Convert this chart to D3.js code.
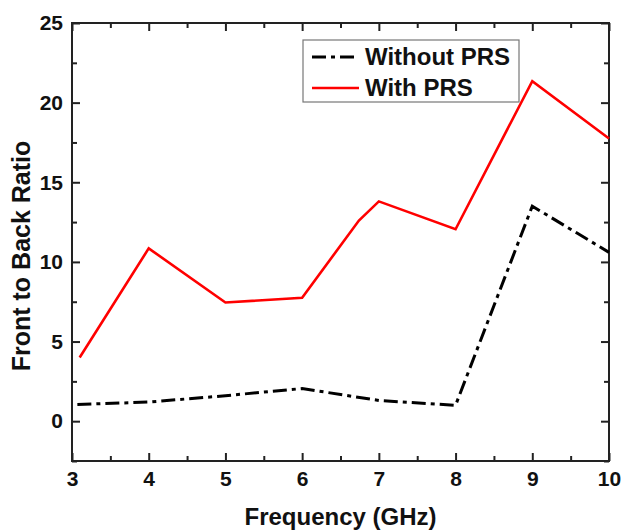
<!DOCTYPE html>
<html>
<head>
<meta charset="utf-8">
<script src="https://cdn.jsdelivr.net/npm/d3@7"></script>
<style>
  body { margin: 0; background: #FFFFFF; }
  svg { display: block; font-family: "Liberation Sans", Arial, sans-serif; font-weight: bold; }
</style>
</head>
<body>
<svg></svg>
<script>
//--Data
const freqWith = [3.1, 4, 5, 6, 6.74, 7, 8, 9, 10];
const ratioWith = [4.0, 10.85, 7.45, 7.75, 12.6, 13.8, 12.05, 21.35, 17.75];
const freqWithout = [3.07, 4, 5, 6, 7, 8, 9, 10];
const ratioWithout = [1.05, 1.2, 1.6, 2.05, 1.3, 1.0, 13.5, 10.6];
const xTicks = [3, 4, 5, 6, 7, 8, 9, 10];
const yTicks = [0, 5, 10, 15, 20, 25];
const seriesNames = ["Without PRS", "With PRS"];

//Shared info
var canvas = {
  width: 622,
  height: 530,
  margin: {top: 23, right: 13, bottom: 69, left: 72},
  scale_x: d3.scaleLinear().domain([3, 10]),
  scale_y: d3.scaleLinear().domain([-2.5, 25]),
  axis_color: "#222222",
  text_color: "#111111"
};
const innerW = canvas.width - canvas.margin.left - canvas.margin.right;
const innerH = canvas.height - canvas.margin.top - canvas.margin.bottom;
canvas.scale_x.range([0, innerW]);
canvas.scale_y.range([innerH, 0]);

//Setup root element
let root = d3.select("svg")
  .attr("width", canvas.width)
  .attr("height", canvas.height);
let plotArea = root.append("g")
  .attr("transform", "translate(" + canvas.margin.left + "," + canvas.margin.top + ")");

//--Axes (ticks pointing inward, minor ticks every half step)
const xMinor = d3.range(3.5, 10, 1);
const yMinor = d3.range(-2.5, 25, 5);

function styleAxis(g) {
  g.select(".domain").remove();
  g.selectAll("line").attr("stroke", canvas.axis_color).attr("stroke-width", 2);
  g.selectAll("text").attr("fill", canvas.text_color).style("font-size", "21px");
}

plotArea.append("g")
  .attr("transform", "translate(0," + innerH + ")")
  .call(d3.axisBottom(canvas.scale_x).tickValues(xTicks).tickSizeInner(-8).tickPadding(10).tickFormat(d3.format("d")))
  .call(styleAxis);
plotArea.append("g")
  .attr("transform", "translate(0," + innerH + ")")
  .call(d3.axisBottom(canvas.scale_x).tickValues(xMinor).tickSize(-5).tickFormat(""))
  .call(styleAxis);
plotArea.append("g")
  .call(d3.axisTop(canvas.scale_x).tickValues(xTicks).tickSize(-8).tickFormat(""))
  .call(styleAxis);
plotArea.append("g")
  .call(d3.axisTop(canvas.scale_x).tickValues(xMinor).tickSize(-5).tickFormat(""))
  .call(styleAxis);

plotArea.append("g")
  .call(d3.axisLeft(canvas.scale_y).tickValues(yTicks).tickSizeInner(-8).tickPadding(9).tickFormat(d3.format("d")))
  .call(styleAxis);
plotArea.append("g")
  .call(d3.axisLeft(canvas.scale_y).tickValues(yMinor).tickSize(-5).tickFormat(""))
  .call(styleAxis);
plotArea.append("g")
  .attr("transform", "translate(" + innerW + ",0)")
  .call(d3.axisRight(canvas.scale_y).tickValues(yTicks).tickSize(-8).tickFormat(""))
  .call(styleAxis);
plotArea.append("g")
  .attr("transform", "translate(" + innerW + ",0)")
  .call(d3.axisRight(canvas.scale_y).tickValues(yMinor).tickSize(-5).tickFormat(""))
  .call(styleAxis);

//Frame
plotArea.append("rect")
  .attr("width", innerW)
  .attr("height", innerH)
  .attr("fill", "none")
  .attr("stroke", canvas.axis_color)
  .attr("stroke-width", 2);

//--Lines
let line = d3.line()
  .x(d => canvas.scale_x(d[0]))
  .y(d => canvas.scale_y(d[1]));

plotArea.append("path")
  .datum(d3.zip(freqWithout, ratioWithout))
  .attr("d", line)
  .attr("fill", "none")
  .attr("stroke", "#000000")
  .attr("stroke-width", 3)
  .attr("stroke-dasharray", "14,5,4,5");

plotArea.append("path")
  .datum(d3.zip(freqWith, ratioWith))
  .attr("d", line)
  .attr("fill", "none")
  .attr("stroke", "#FF0000")
  .attr("stroke-width", 2.6)
  .attr("stroke-linejoin", "miter");

//--Legend
let legend = root.append("g").attr("transform", "translate(303,40)");
legend.append("rect")
  .attr("width", 216)
  .attr("height", 62)
  .attr("fill", "#FFFFFF")
  .attr("stroke", "#777777")
  .attr("stroke-width", 1.2);
const legendStyle = [
  {color: "#000000", dash: "14,5,4,5", width: 3},
  {color: "#FF0000", dash: null, width: 2.6}
];
seriesNames.forEach((name, i) => {
  let row = legend.append("g").attr("transform", "translate(0," + (17 + i * 31) + ")");
  row.append("line")
    .attr("x1", 9).attr("x2", 56)
    .attr("stroke", legendStyle[i].color)
    .attr("stroke-width", legendStyle[i].width)
    .attr("stroke-dasharray", legendStyle[i].dash);
  row.append("text")
    .attr("x", 62)
    .attr("y", 8)
    .attr("fill", canvas.text_color)
    .style("font-size", "24px")
    .text(name);
});

//--Axis titles
root.append("text")
  .attr("x", canvas.margin.left + innerW / 2)
  .attr("y", 525)
  .attr("text-anchor", "middle")
  .attr("fill", canvas.text_color)
  .style("font-size", "24px")
  .text("Frequency (GHz)");
root.append("text")
  .attr("transform", "translate(30," + (canvas.margin.top + innerH / 2 + 14) + ")rotate(-90)")
  .attr("text-anchor", "middle")
  .attr("fill", canvas.text_color)
  .style("font-size", "25px")
  .text("Front to Back Ratio");
</script>
</body>
</html>
